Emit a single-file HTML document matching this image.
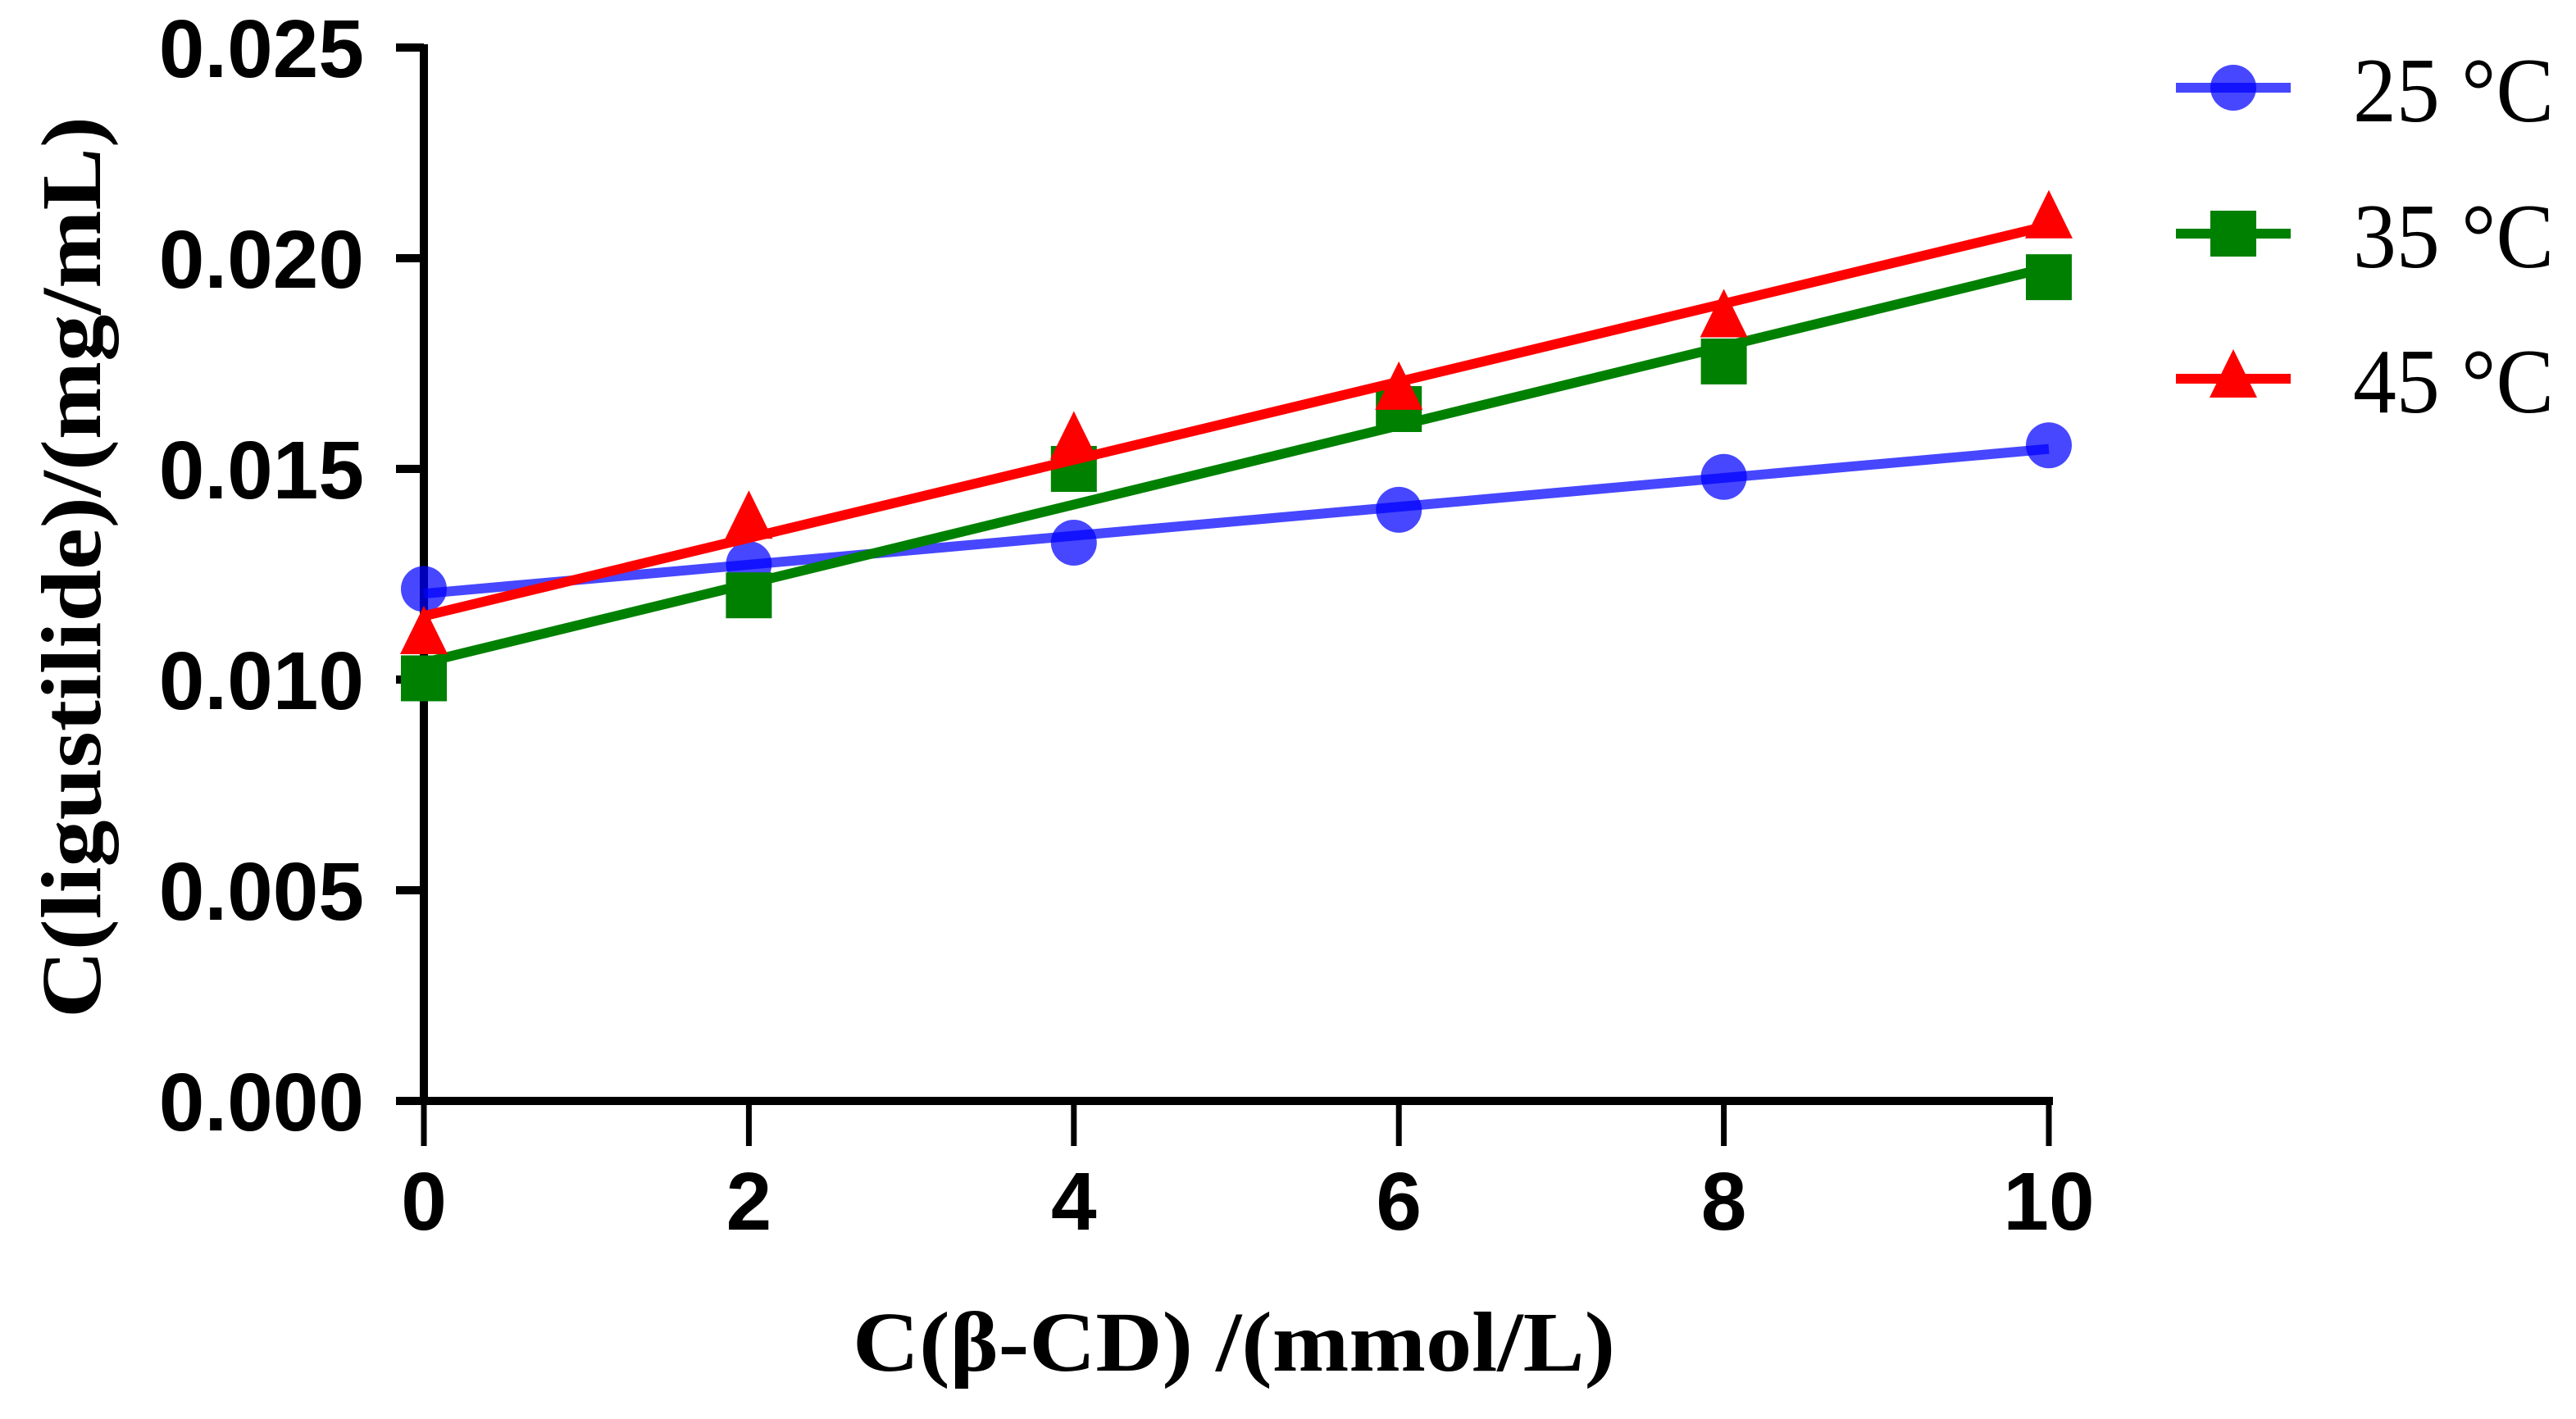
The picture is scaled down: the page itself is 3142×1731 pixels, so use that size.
<!DOCTYPE html>
<html><head><meta charset="utf-8"><style>
html,body{margin:0;padding:0;background:#fff;}
svg{display:block;}
</style></head><body>
<svg id="chart" width="3142" height="1731" viewBox="0 0 3142 1731" xmlns="http://www.w3.org/2000/svg">
<g id="axes"></g>
<g id="series"></g>
<text transform="translate(122,692) rotate(-90)" text-anchor="middle" font-family="Liberation Serif, serif" font-weight="bold" font-size="104" textLength="1100" lengthAdjust="spacingAndGlyphs">C(ligustilide)/(mg/mL)</text>
<text x="1505" y="1672" text-anchor="middle" font-family="Liberation Serif, serif" font-weight="bold" font-size="104" textLength="930" lengthAdjust="spacingAndGlyphs">C(β-CD) /(mmol/L)</text>
<g id="legend"></g>
</svg>
<script>
const xValues = [0, 2, 4, 6, 8, 10];
const seriesNames = ["25 °C", "35 °C", "45 °C"];
const s25 = [0.01215, 0.01274, 0.01325, 0.01403, 0.01481, 0.01556];
const s35 = [0.01003, 0.0120, 0.0150, 0.01642, 0.01755, 0.01955];
const s45 = [0.01105, 0.01379, 0.01567, 0.01685, 0.01857, 0.02092];
const yTicks = [0, 0.005, 0.010, 0.015, 0.020, 0.025];
const yTickLabels = ["0.000", "0.005", "0.010", "0.015", "0.020", "0.025"];
const xTicks = [0, 2, 4, 6, 8, 10];
const xTickLabels = ["0", "2", "4", "6", "8", "10"];

const NS = "http://www.w3.org/2000/svg";
const X0 = 517, X1 = 2499, Y0 = 1343, Y1 = 58;
function sx(v){ return X0 + (v - 0) / 10 * (X1 - X0); }
function sy(v){ return Y0 - v / 0.025 * (Y0 - Y1); }
function mk(tag, attrs, parent){ const e = document.createElementNS(NS, tag); for (const k in attrs) e.setAttribute(k, attrs[k]); parent.appendChild(e); return e; }

const axes = document.getElementById('axes');
let yl = mk('line', {x1:X0, y1:Y1-4, x2:X0, y2:Y0+5, stroke:'#000', 'stroke-width':10}, axes);


let xl = mk('line', {x1:X0-5, y1:Y0, x2:X1+5, y2:Y0, stroke:'#000', 'stroke-width':10}, axes);


yTicks.forEach((t, i) => {
  const y = sy(t);
  const l = mk('line', {x1:X0-34, y1:y, x2:X0, y2:y, stroke:'#000', 'stroke-width':10}, axes);
  
  
  const tx = mk('text', {x:444, y:y+36, 'text-anchor':'end', 'font-family':'Liberation Sans, sans-serif', 'font-weight':'bold', 'font-size':100}, axes);
  tx.textContent = yTickLabels[i];
  
  
});
xTicks.forEach((t, i) => {
  const x = sx(t);
  const l = mk('line', {x1:x, y1:Y0, x2:x, y2:Y0+55, stroke:'#000', 'stroke-width':7}, axes);
  
  
  const tx = mk('text', {x:x, y:1500, 'text-anchor':'middle', 'font-family':'Liberation Sans, sans-serif', 'font-weight':'bold', 'font-size':100}, axes);
  tx.textContent = xTickLabels[i];
  
  
});

function fit(xs, ys){
  const n = xs.length; let mx=0,my=0; for(let i=0;i<n;i++){mx+=xs[i];my+=ys[i];} mx/=n; my/=n;
  let num=0,den=0; for(let i=0;i<n;i++){num+=(xs[i]-mx)*(ys[i]-my);den+=(xs[i]-mx)**2;}
  const b=num/den; return [my-b*mx, b];
}
function marker(g, shape, x, y, color, op){
  let e;
  if (shape==='circle') e = mk('circle', {cx:x, cy:y, r:28, fill:color, 'fill-opacity':op}, g);
  else if (shape==='square') e = mk('rect', {x:x-28, y:y-28, width:56, height:56, fill:color}, g);
  else e = mk('polygon', {points:`${x},${y-36} ${x+29},${y+23} ${x-29},${y+23}`, fill:color}, g);
  return e;
}
const seriesData = [s25, s35, s45];
const colors = ['#0000ff', '#008000', '#ff0000'];
const opac = [0.72, 1, 1];
const shapes = ['circle', 'square', 'triangle'];
const keys = ['25c', '35c', '45c'];
const sg = document.getElementById('series');
seriesData.forEach((ys, si) => {
  const g = mk('g', {}, sg);
  
  
  const [a, b] = fit(xValues, ys);
  const ln = mk('line', {x1:sx(0), y1:sy(a), x2:sx(10), y2:sy(a+b*10), stroke:colors[si], 'stroke-width':12, 'stroke-opacity':opac[si]}, g);
  
  
  ys.forEach((v, i) => {
    const m = marker(g, shapes[si], sx(xValues[i]), sy(v), colors[si], opac[si]);
    
    
  });
});
const lg = document.getElementById('legend');
const legY = [107, 285, 462];
seriesNames.forEach((name, i) => {
  const g = mk('g', {}, lg);
  
  
  const ln = mk('line', {x1:2654, y1:legY[i], x2:2794, y2:legY[i], stroke:colors[i], 'stroke-width':12, 'stroke-opacity':opac[i]}, g);
  
  
  const m = marker(g, shapes[i], 2724, legY[i], colors[i], opac[i]);
  
  
  const t = mk('text', {x:2870, y:legY[i]+41, 'font-family':'Liberation Serif, serif', 'font-size':112, textLength:245, lengthAdjust:'spacingAndGlyphs'}, g);
  t.textContent = name;
  
  
});
</script>
</body></html>
